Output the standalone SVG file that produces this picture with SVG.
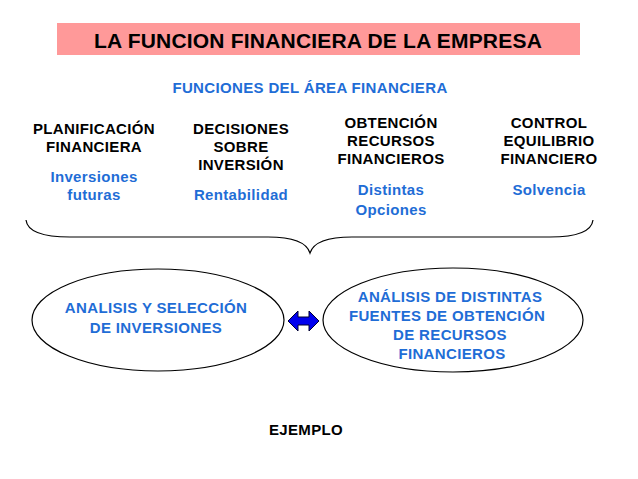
<svg xmlns="http://www.w3.org/2000/svg" width="638" height="479" viewBox="0 0 638 479">
<style>
text{font-family:"Liberation Sans",Arial,sans-serif;font-weight:bold;text-anchor:middle}
.h{font-size:15px;fill:#000;letter-spacing:0.35px}
.b{font-size:15px;fill:#1f6dd6;letter-spacing:0.35px}
.e{fill:#fff;stroke:#000;stroke-width:1.2}
</style>
<rect width="638" height="479" fill="#fff"/>
<g id="title">
<rect x="57" y="23" width="523" height="32" fill="#ff9999"/>
<text x="318" y="48" font-size="21" letter-spacing="0.2" fill="#000">LA FUNCION FINANCIERA DE LA EMPRESA</text>
</g>
<g id="subtitle"><text class="b" x="310" y="93">FUNCIONES DEL ÁREA FINANCIERA</text></g>
<g id="planificacion">
<text class="h" x="94" y="134">PLANIFICACIÓN</text>
<text class="h" x="94" y="152">FINANCIERA</text>
<text class="b" x="94" y="182">Inversiones</text>
<text class="b" x="94" y="200">futuras</text>
</g>
<g id="decisiones">
<text class="h" x="241" y="134">DECISIONES</text>
<text class="h" x="241" y="152">SOBRE</text>
<text class="h" x="241" y="170">INVERSIÓN</text>
<text class="b" x="241" y="200">Rentabilidad</text>
</g>
<g id="obtencion">
<text class="h" x="391" y="128">OBTENCIÓN</text>
<text class="h" x="391" y="146">RECURSOS</text>
<text class="h" x="391" y="164">FINANCIEROS</text>
<text class="b" x="391" y="195">Distintas</text>
<text class="b" x="391" y="215">Opciones</text>
</g>
<g id="control">
<text class="h" x="549" y="128">CONTROL</text>
<text class="h" x="549" y="146">EQUILIBRIO</text>
<text class="h" x="549" y="164">FINANCIERO</text>
<text class="b" x="549" y="195">Solvencia</text>
</g>
<g id="connectors">
<path d="M26,220 Q28,237 70,237 L268,237 Q305,237 310,253 Q315,237 352,237 L550,237 Q591,237 593,220" fill="none" stroke="#000" stroke-width="1.2"/>
<path d="M288,321 L298,311 L298,317 L309,317 L309,311 L319,321 L309,331 L309,325 L298,325 L298,331 Z" fill="#0000ee" stroke="#000033" stroke-width="1"/>
</g>
<g id="inversiones">
<ellipse class="e" cx="158" cy="320" rx="126" ry="51"/>
<text class="b" x="156" y="313">ANALISIS Y SELECCIÓN</text>
<text class="b" x="156" y="333">DE INVERSIONES</text>
</g>
<g id="fuentes">
<ellipse class="e" cx="453" cy="320" rx="130" ry="52"/>
<text class="b" x="450" y="302">ANÁLISIS DE DISTINTAS</text>
<text class="b" x="447" y="321">FUENTES DE OBTENCIÓN</text>
<text class="b" x="450" y="340">DE RECURSOS</text>
<text class="b" x="452" y="359">FINANCIEROS</text>
</g>
<g id="ejemplo"><text class="h" x="306" y="435">EJEMPLO</text></g>
</svg>
